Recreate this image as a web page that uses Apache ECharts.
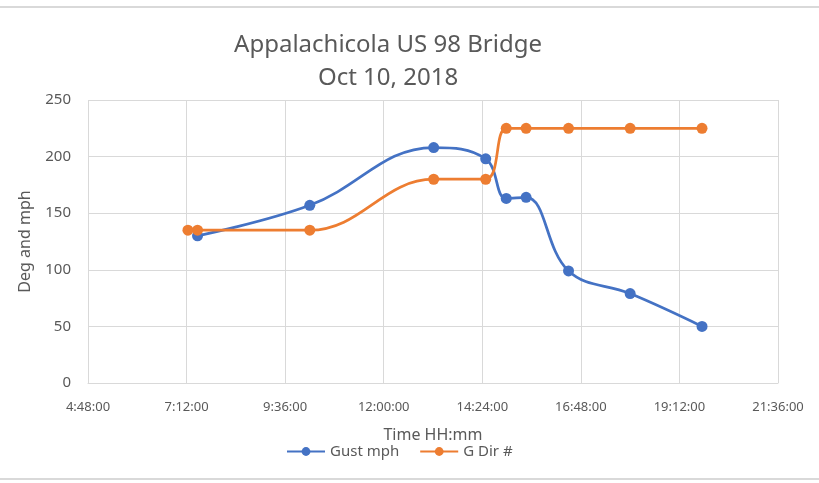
<!DOCTYPE html>
<html>
<head>
<meta charset="utf-8">
<style>
    html, body { margin: 0; padding: 0; background: #fff; }
    #chart { width: 819px; height: 483px; }
</style>
</head>
<body>
<div id="chart"></div>
<script src="https://cdn.jsdelivr.net/npm/echarts@6/dist/echarts.min.js"></script>
<script>
    // readings (time HH:mm)
    var gustTimes = ['7:28', '10:12', '13:13', '14:29', '14:59', '15:28', '16:30', '18:00', '19:45'];
    var gustMph = [130, 157, 208, 198, 163, 164, 99, 79, 50];
    var dirTimes = ['7:14', '7:28', '10:12', '13:13', '14:29', '14:59', '15:28', '16:30', '18:00', '19:45'];
    var dirDeg = [135, 135, 135, 180, 180, 225, 225, 225, 225, 225];

    var font = 'Noto Sans';
    var grey = '#595959';

    function toMin(s) {
        var p = s.split(':');
        return +p[0] * 60 + +p[1];
    }
    function fmt(m) {
        var h = Math.floor(m / 60), mm = Math.round(m % 60);
        return h + ':' + (mm < 10 ? '0' : '') + mm + ':00';
    }
    function pairs(times, vals) {
        return times.map(function (t, i) { return [toMin(t), vals[i]]; });
    }

    var myChart = echarts.init(document.getElementById('chart'));
    myChart.setOption({
        animation: false,
        title: {
            text: 'Appalachicola US 98 Bridge\nOct 10, 2018',
            left: 388,
            textAlign: 'center',
            top: 29,
            padding: 0,
            textStyle: {
                fontFamily: font,
                fontSize: 24,
                fontWeight: 'normal',
                color: grey,
                lineHeight: 33
            }
        },
        legend: {
            data: ['Gust mph', 'G Dir #'],
            left: 286,
            top: 444,
            padding: 0,
            itemWidth: 38,
            itemHeight: 11,
            itemGap: 20,
            textStyle: { fontFamily: font, fontSize: 15, color: grey }
        },
        grid: { left: 88, right: 41, top: 100, bottom: 100 },
        xAxis: {
            type: 'value',
            min: 288,
            max: 1296,
            interval: 144,
            name: 'Time HH:mm',
            nameLocation: 'middle',
            nameGap: 44,
            nameTextStyle: { fontFamily: font, fontSize: 16, color: grey },
            axisLine: { lineStyle: { color: '#d9d9d9' } },
            axisTick: { show: false },
            axisLabel: { formatter: fmt, fontFamily: font, fontSize: 13, color: grey, margin: 18 },
            splitLine: { show: true, lineStyle: { color: '#d9d9d9' } }
        },
        yAxis: {
            type: 'value',
            min: 0,
            max: 250,
            interval: 50,
            name: 'Deg and mph',
            nameLocation: 'middle',
            nameGap: 55,
            nameTextStyle: { fontFamily: font, fontSize: 16, color: grey },
            axisLine: { show: false },
            axisTick: { show: false },
            axisLabel: { fontFamily: font, fontSize: 15, color: grey, margin: 17 },
            splitLine: { lineStyle: { color: '#d9d9d9' } }
        },
        series: [
            {
                name: 'Gust mph',
                type: 'line',
                smooth: 0.4,
                data: pairs(gustTimes, gustMph),
                symbol: 'circle',
                symbolSize: 11,
                itemStyle: { color: '#4472C4' },
                lineStyle: { width: 2.75, color: '#4472C4' }
            },
            {
                name: 'G Dir #',
                type: 'line',
                smooth: 0.4,
                data: pairs(dirTimes, dirDeg),
                symbol: 'circle',
                symbolSize: 11,
                itemStyle: { color: '#ED7D31' },
                lineStyle: { width: 2.75, color: '#ED7D31' }
            }
        ],
        graphic: [
            { type: 'rect', shape: { x: 0, y: 6, width: 819, height: 2 }, style: { fill: '#d9d9d9' } },
            { type: 'rect', shape: { x: 0, y: 478, width: 819, height: 2 }, style: { fill: '#d9d9d9' } }
        ]
    });
</script>
</body>
</html>
